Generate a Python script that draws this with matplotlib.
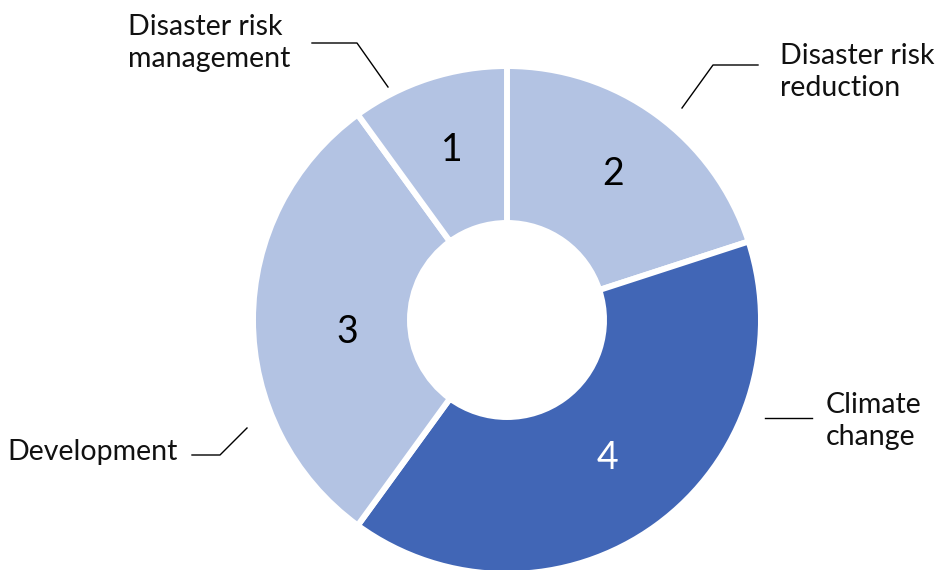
import matplotlib
matplotlib.use("Agg")
import matplotlib.pyplot as plt
import numpy as np

categories = ["Disaster risk reduction", "Climate change", "Development", "Disaster risk management"]
values = [2, 4, 3, 1]
display_labels = ["Disaster risk\nreduction", "Climate\nchange", "Development", "Disaster risk\nmanagement"]
colors = ["#b3c3e3", "#4166b6", "#b3c3e3", "#b3c3e3"]
num_colors = ["black", "white", "black", "black"]

W, H = 943, 570
fig = plt.figure(figsize=(W / 100, H / 100), dpi=100)
ax = fig.add_axes([0, 0, 1, 1])

cx, cy = 507, H - 320
R, r_in = 254, 97
font = "Lato"

wedges, _ = ax.pie(values, colors=colors, startangle=90, counterclock=False,
                   center=(cx, cy), radius=R, frame=True,
                   wedgeprops=dict(width=R - r_in, edgecolor="white", linewidth=4.3))
ax.set_xlim(0, W)
ax.set_ylim(0, H)
ax.set_aspect("equal")
ax.axis("off")

label_r = [181, 171, 160, 179]
label_dy = [0, 0, -12, 0]
for w, v, lr, dy, c in zip(wedges, values, label_r, label_dy, num_colors):
    ang = np.deg2rad((w.theta1 + w.theta2) / 2)
    ax.text(cx + lr * np.cos(ang), cy + lr * np.sin(ang) + dy, str(v), ha="center", va="center",
            fontsize=27, color=c, family=font)

def py(y):
    return H - y

# leader lines (pixel coords of reference)
leaders = [
    [(682, 108), (713, 65), (758, 65)],
    [(765, 418), (812, 418)],
    [(247, 428), (220, 455), (192, 455)],
    [(388, 87), (357, 43), (312, 43)],
]
for pts in leaders:
    xs = [p[0] for p in pts]
    ys = [py(p[1]) for p in pts]
    ax.plot(xs, ys, color="black", lw=1.0)

text_pos = [(780, 72, "left"), (826, 421, "left"), (178, 452, "right"), (290, 43, "right")]
for (x, y, ha), lab in zip(text_pos, display_labels):
    ax.text(x, py(y), lab, ha=ha, va="center", fontsize=20.5, family=font,
            color="#111111", linespacing=1.3, multialignment="left")

fig.savefig("out.png", dpi=100)
